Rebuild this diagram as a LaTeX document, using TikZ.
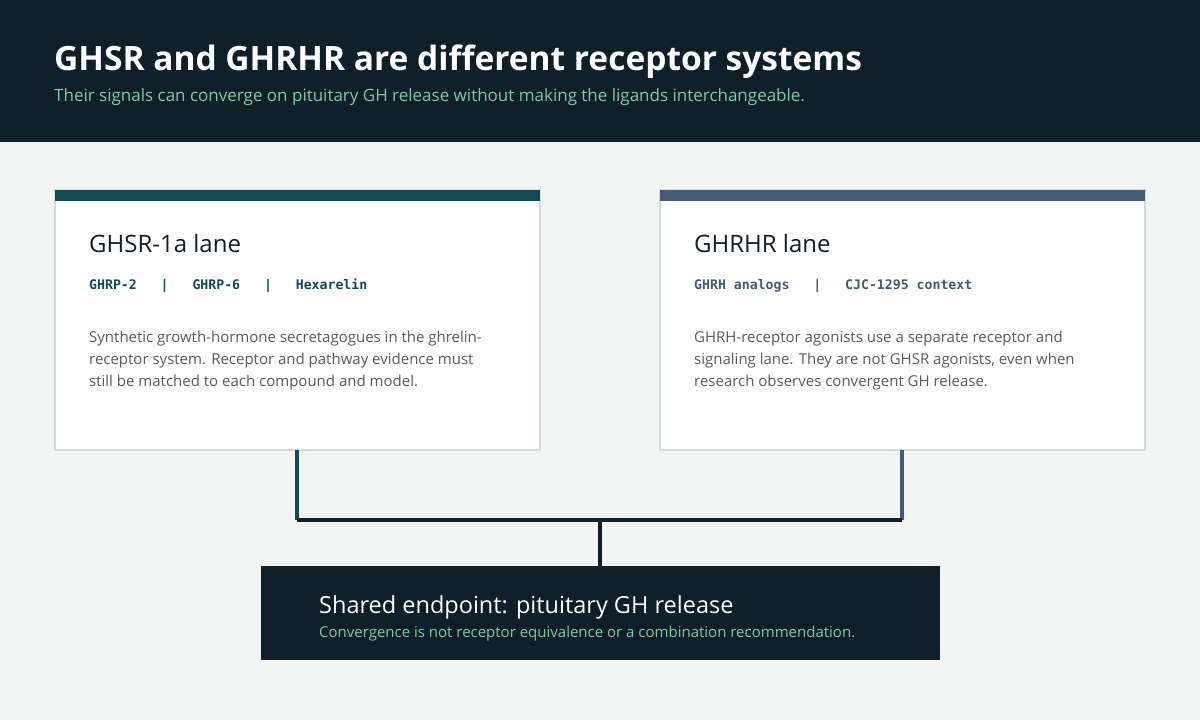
\documentclass[tikz,border=0pt]{standalone}
\usepackage{fontspec}
\setmainfont{Open Sans}
\setmonofont{DejaVu Sans Mono}
\usetikzlibrary{positioning}
\definecolor{inkdark}{HTML}{0F1F2A}
\definecolor{pagebg}{HTML}{F3F5F4}
\definecolor{tealbar}{HTML}{124A57}
\definecolor{slatebar}{HTML}{435A78}
\definecolor{mint}{HTML}{7FCBA0}
\definecolor{cardedge}{HTML}{D3DCDC}
\definecolor{bodygray}{HTML}{555B60}
\tikzset{
  card/.style={draw=cardedge, line width=1.5pt, fill=white},
  lanetitle/.style={anchor=base west, inner sep=0pt, text=inkdark, font=\fontsize{24}{28}\selectfont},
  tags/.style={anchor=base west, inner sep=0pt, font=\ttfamily\bfseries\fontsize{13.2}{15}\selectfont},
  body/.style={anchor=base west, inner sep=0pt, align=left, text=bodygray, font=\fontsize{15}{22}\selectfont},
  link/.style={line width=4pt}
}
\begin{document}
\begin{tikzpicture}[x=1pt, y=-1pt]
  \useasboundingbox (0,0) rectangle (1200,720);
  \fill[pagebg] (0,0) rectangle (1200,720);

  % header band
  \fill[inkdark] (0,0) rectangle (1200,142);
  \node[anchor=base west, inner sep=0pt, text=white, font=\fontsize{33.5}{38}\selectfont\bfseries] (title) at (54,70)
    {GHSR and GHRHR are different receptor systems};
  \node[anchor=base west, inner sep=0pt, text=mint, font=\fontsize{17}{20}\selectfont] (subtitle) at (54,101)
    {Their signals can converge on pituitary GH release without making the ligands interchangeable.};

  % lanes
  \draw[card] (55,190) rectangle (540,450);
  \fill[tealbar] (55,190) rectangle (540,201);
  \node[lanetitle] (ghsrtitle) at (89,252) {GHSR-1a lane};
  \node[tags, text=tealbar] (ghsrtags) at (89,289) {GHRP-2 ~~|~~ GHRP-6 ~~|~~ Hexarelin};
  \node[body] (ghsrbody) at (89,386)
    {Synthetic growth-hormone secretagogues in the ghrelin-\\receptor system. Receptor and pathway evidence must\\still be matched to each compound and model.};

  \draw[card] (660,190) rectangle (1145,450);
  \fill[slatebar] (660,190) rectangle (1145,201);
  \node[lanetitle] (ghrhrtitle) at (694,252) {GHRHR lane};
  \node[tags, text=slatebar] (ghrhrtags) at (694,289) {GHRH analogs ~~|~~ CJC-1295 context};
  \node[body] (ghrhrbody) at (694,386)
    {GHRH-receptor agonists use a separate receptor and\\signaling lane. They are not GHSR agonists, even when\\research observes convergent GH release.};

  % connectors
  \coordinate (ghsrout) at (297,450);
  \coordinate (ghrhrout) at (902,450);
  \coordinate (joinL) at (297,520);
  \coordinate (joinR) at (902,520);
  \coordinate (joinM) at (600,520);
  \coordinate (endin) at (600,566);
  \draw[link, tealbar] (ghsrout) -- (joinL);
  \draw[link, slatebar] (ghrhrout) -- (joinR);
  \draw[link, inkdark] (joinL) -- (joinR);
  \draw[link, inkdark] (joinM) -- (endin);

  % shared endpoint
  \fill[inkdark] (261,566) rectangle (940,660);
  \node[anchor=base west, inner sep=0pt, text=white, font=\fontsize{23.5}{28}\selectfont] (endtitle) at (319,613)
    {Shared endpoint: pituitary GH release};
  \node[anchor=base west, inner sep=0pt, text=mint, font=\fontsize{15}{18}\selectfont] (endnote) at (319,637)
    {Convergence is not receptor equivalence or a combination recommendation.};
\end{tikzpicture}
\end{document}
